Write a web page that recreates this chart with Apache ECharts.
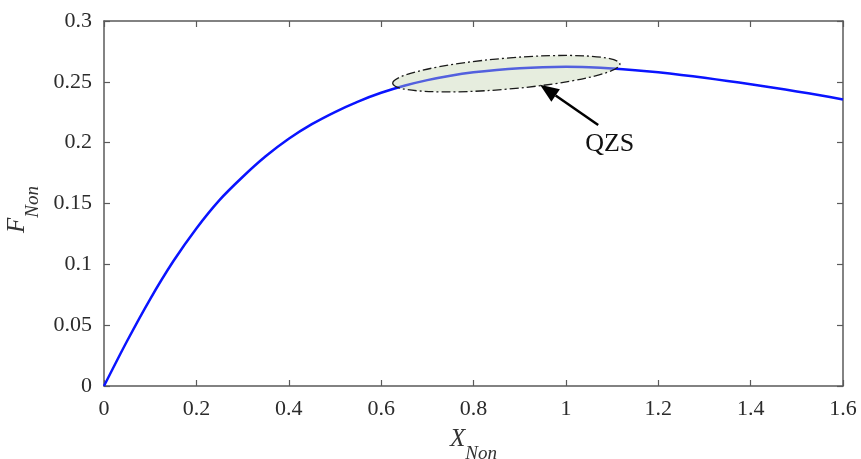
<!DOCTYPE html>
<html>
<head>
<meta charset="utf-8">
<script src="https://cdn.jsdelivr.net/npm/echarts@6/dist/echarts.min.js"></script>
<style>
html,body{margin:0;padding:0;background:#fff;}
#c{width:861px;height:459px;}
</style>
</head>
<body>
<div id="c"></div>
<script>
// ---- data ----
const xValues = [0, 0.05, 0.1, 0.15, 0.2, 0.25, 0.3, 0.35, 0.4, 0.45, 0.5, 0.55, 0.6, 0.65, 0.7, 0.75, 0.8,
                 0.85, 0.9, 0.95, 1.0, 1.05, 1.1, 1.15, 1.2, 1.25, 1.3, 1.35, 1.4, 1.45, 1.5, 1.55, 1.6];
const fValues = [0, 0.037, 0.0715, 0.1025, 0.1295, 0.1528, 0.1718, 0.1888, 0.2032, 0.2152, 0.2252, 0.2338, 0.2410, 0.2468, 0.2514, 0.2550, 0.2578,
                 0.2598, 0.2612, 0.2620, 0.2623, 0.2619, 0.2610, 0.2596, 0.2578, 0.2557, 0.2533, 0.2507, 0.2480, 0.2451, 0.2421, 0.2390, 0.2355];
const xTicks = [0, 0.2, 0.4, 0.6, 0.8, 1, 1.2, 1.4, 1.6];
const yTicks = [0, 0.05, 0.1, 0.15, 0.2, 0.25, 0.3];
const annotationLabel = 'QZS';
// QZS ellipse (data coords) and arrow ends
const qzsCenter = [0.871, 0.2567];
const arrowTip = [0.944, 0.2477];
const arrowTail = [1.070, 0.2145];
const labelPos = [1.095, 0.199];

const FONT = '"Liberation Serif", "Times New Roman", serif';
const AX = '#5a5a5a';
const TXT = '#2b2b2b';

const chart = echarts.init(document.getElementById('c'));
const seriesData = xValues.map((x, i) => [x, fValues[i]]);

const axisCommon = {
  type: 'value',
  axisLine: { show: true, onZero: false, lineStyle: { color: AX, width: 1.5 } },
  axisTick: { show: true, inside: true, length: 6, lineStyle: { color: AX, width: 1.2 } },
  splitLine: { show: false }
};

chart.setOption({
  animation: false,
  backgroundColor: '#fff',
  grid: { left: 104, right: 18, top: 21, bottom: 73, containLabel: false, outerBoundsMode: 'none' },
  xAxis: [
    Object.assign({}, axisCommon, {
      min: xTicks[0], max: xTicks[xTicks.length - 1], interval: 0.2, position: 'bottom',
      axisLabel: { margin: 12, fontFamily: FONT, fontSize: 22, color: TXT,
        formatter: v => String(Math.round(v * 100) / 100) },
      name: '{x|X}{s|Non}', nameLocation: 'middle', nameGap: 30,
      nameTextStyle: { rich: {
        x: { fontFamily: FONT, fontStyle: 'italic', fontSize: 25, color: '#333' },
        s: { fontFamily: FONT, fontStyle: 'italic', fontSize: 19, color: '#333', padding: [28, 0, 0, 0] }
      } }
    }),
    Object.assign({}, axisCommon, {
      min: xTicks[0], max: xTicks[xTicks.length - 1], interval: 0.2, position: 'top',
      axisLabel: { show: false }
    })
  ],
  yAxis: [
    Object.assign({}, axisCommon, {
      min: yTicks[0], max: yTicks[yTicks.length - 1], interval: 0.05, position: 'left',
      axisLabel: { margin: 12, fontFamily: FONT, fontSize: 22, color: TXT,
        formatter: v => String(Math.round(v * 1000) / 1000) },
      name: '{x|F}{s|Non}', nameLocation: 'middle', nameGap: 47, nameRotate: 90,
      nameTextStyle: { rich: {
        x: { fontFamily: FONT, fontStyle: 'italic', fontSize: 25, color: '#333' },
        s: { fontFamily: FONT, fontStyle: 'italic', fontSize: 19, color: '#333', padding: [32, 12, 0, 0] }
      } }
    }),
    Object.assign({}, axisCommon, {
      min: yTicks[0], max: yTicks[yTicks.length - 1], interval: 0.05, position: 'right',
      axisLabel: { show: false }
    })
  ],
  series: [{
    type: 'line',
    data: seriesData,
    smooth: 0.3,
    showSymbol: false,
    symbol: 'none',
    lineStyle: { color: '#0a14ff', width: 2.5 },
    z: 2
  }]
});

function px(p) { return chart.convertToPixel({ xAxisIndex: 0, yAxisIndex: 0 }, p); }
const c = px(qzsCenter);
const tip = px(arrowTip);
const tail = px(arrowTail);
const lab = px(labelPos);
const dx = tail[0] - tip[0], dy = tail[1] - tip[1];
const len = Math.sqrt(dx * dx + dy * dy);
const ux = dx / len, uy = dy / len;
const headL = 19, headW = 7.5;
const base = [tip[0] + ux * headL, tip[1] + uy * headL];
const p1 = [base[0] - uy * headW, base[1] + ux * headW];
const p2 = [base[0] + uy * headW, base[1] - ux * headW];

chart.setOption({
  graphic: [
    {
      type: 'ellipse', x: c[0], y: c[1], rotation: 0.085, z: 100,
      shape: { cx: 0, cy: 0, rx: 114, ry: 15.5 },
      style: { fill: 'rgba(192,210,172,0.4)', stroke: '#1a1a1a', lineWidth: 1.3, lineDash: [9, 3, 2, 3] }
    },
    {
      type: 'line', z: 101,
      shape: { x1: base[0], y1: base[1], x2: tail[0], y2: tail[1] },
      style: { stroke: '#000', lineWidth: 2.5 }
    },
    {
      type: 'polygon', z: 101,
      shape: { points: [tip, p1, p2] },
      style: { fill: '#000' }
    },
    {
      type: 'text', z: 101, x: lab[0], y: lab[1],
      style: { text: annotationLabel, font: '26px ' + FONT, fill: '#111', textAlign: 'center', textVerticalAlign: 'middle' }
    }
  ]
});
</script>
</body>
</html>
